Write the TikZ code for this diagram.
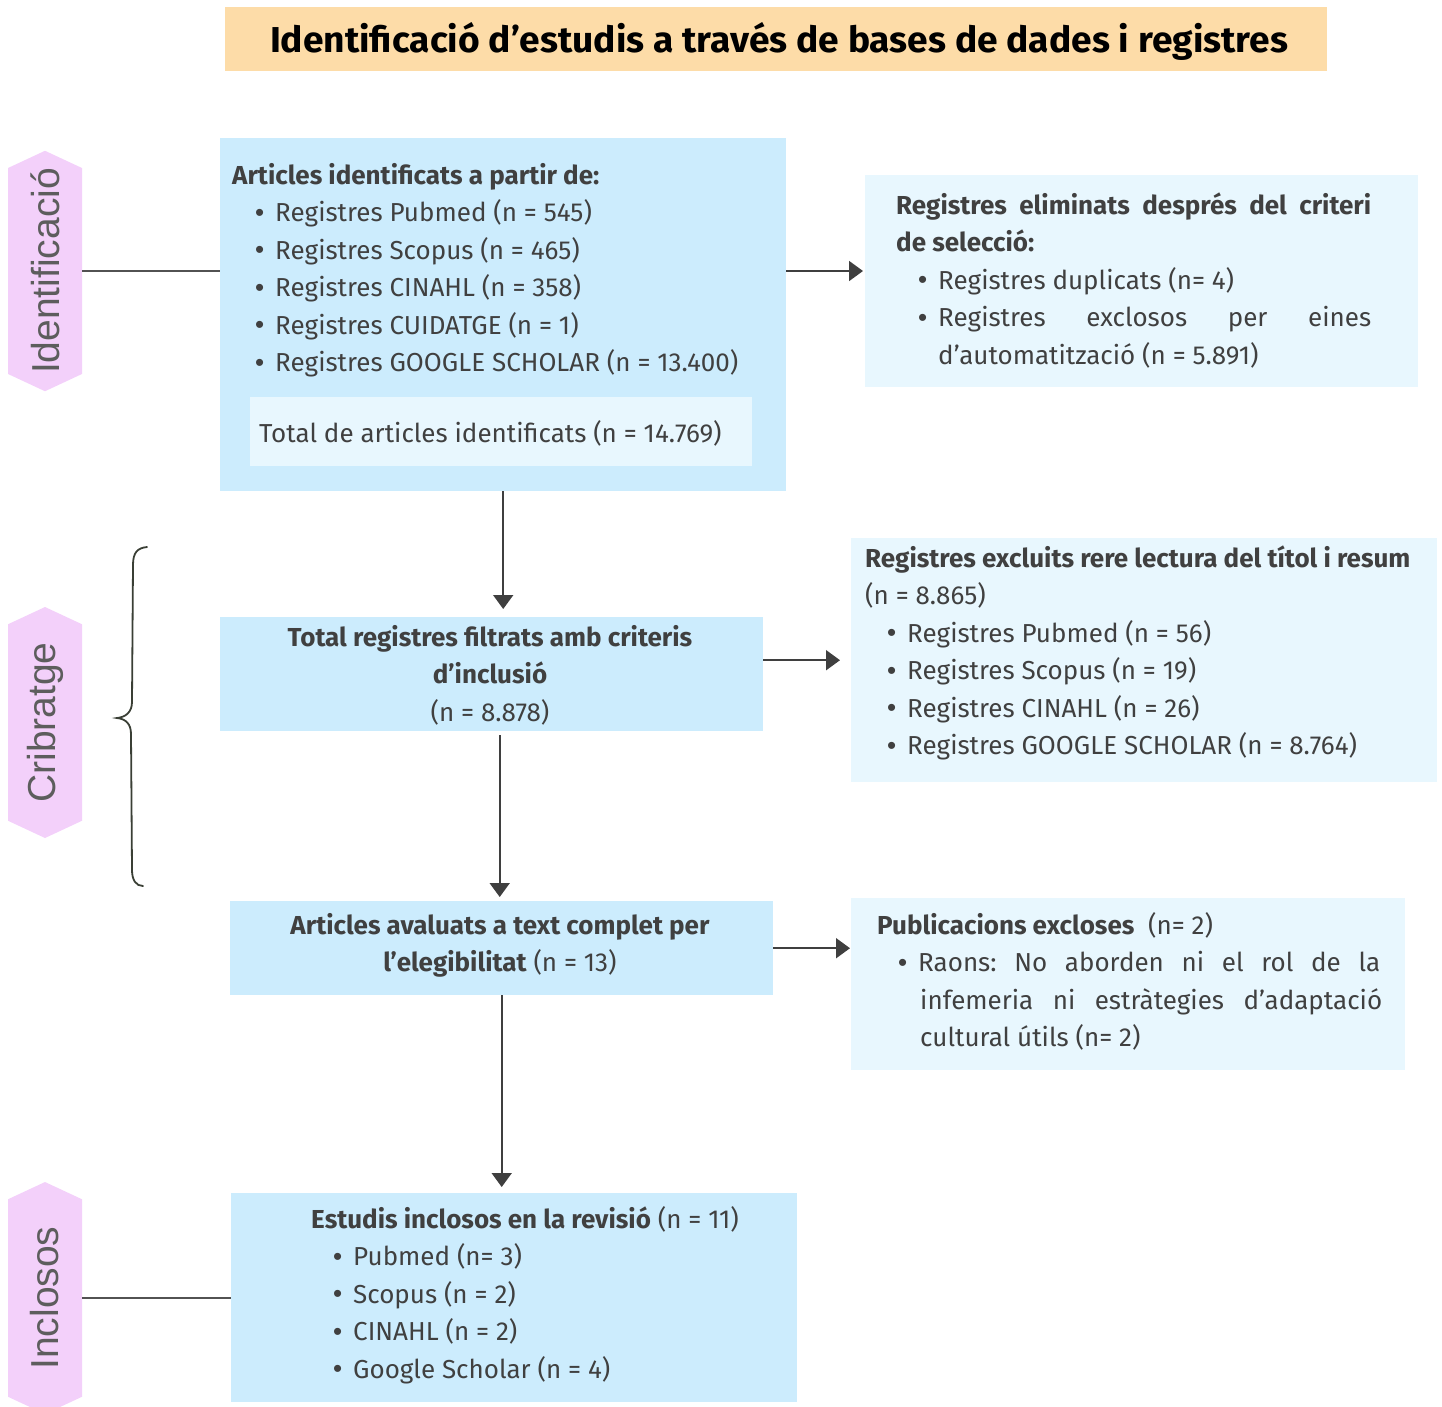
\documentclass[tikz,border=0pt]{standalone}
\usepackage{fontspec}
\usepackage{graphicx}
\setmainfont{Fira Sans}
\newfontfamily\labelfont{Liberation Sans}
\usetikzlibrary{arrows.meta,shapes.symbols}
\definecolor{mainblue}{HTML}{CCECFD}
\definecolor{lightblue}{HTML}{E8F7FE}
\definecolor{pinkhex}{HTML}{F3D0FA}
\definecolor{titlebg}{HTML}{FDDCA8}
\definecolor{txt}{HTML}{404040}
\definecolor{arrowc}{HTML}{3F3F3F}
\definecolor{bracec}{HTML}{3A3F35}
\frenchspacing
\newcommand\bitem[2]{\hspace*{#1}\makebox[20pt][l]{\labelfont\raisebox{0.5pt}{•}}#2}
\newcommand\bodysize{\fontsize{26}{37.5}\selectfont}
\begin{document}
\begin{tikzpicture}[x=1pt,y=-1pt,
  mainbox/.style={fill=mainblue, draw=none, anchor=north west, inner sep=0pt},
  lightbox/.style={fill=lightblue, draw=none, anchor=north west, inner sep=0pt},
  hexlab/.style={shape=signal, signal to=east and west, signal pointer angle=130,
     fill=pinkhex, draw=none, rotate=90, minimum height=74pt, inner sep=0pt,
     font={\labelfont\fontsize{39}{41}\selectfont}, text=txt!85},
  txtnode/.style={anchor=base west, inner sep=0pt, text=txt, font=\bodysize},
  txtc/.style={anchor=base, inner sep=0pt, text=txt, font=\bodysize},
  arr/.style={draw=arrowc, line width=1.8pt, -{Triangle[length=14pt,width=20pt]}},
  plain/.style={draw=arrowc!90, line width=1.8pt}
]
\useasboundingbox (0,0) rectangle (1442,1406);

% title
\node[fill=titlebg, anchor=north west, minimum width=1102pt, minimum height=64pt, inner sep=0pt] (title) at (225,7) {};
\node[anchor=base, inner sep=0pt, font={\bfseries\fontsize{36}{40}\selectfont}] (titletext) at (779,52)
  {\resizebox{1018pt}{\height}{Identificació d’estudis a través de bases de dades i registres}};

% side labels
\node[hexlab, minimum width=232pt] (hexI) at (45,271) {Identificació};
\node[hexlab, minimum width=231pt] (hexC) at (45,722.5) {Cribratge};
\node[hexlab, minimum width=232pt] (hexN) at (45,1298) {Inclosos};

% main boxes
\node[mainbox, minimum width=566pt, minimum height=353pt] (b1) at (220,138) {};
\node[lightbox, minimum width=502pt, minimum height=69pt] (inner) at (250,397) {};
\node[mainbox, minimum width=543pt, minimum height=114pt] (b2) at (220,617) {};
\node[mainbox, minimum width=543pt, minimum height=94pt] (b3) at (230,901) {};
\node[mainbox, minimum width=566pt, minimum height=209pt] (b4) at (231,1193) {};

% right boxes
\node[lightbox, minimum width=553pt, minimum height=212pt] (r1) at (865,175) {};
\node[lightbox, minimum width=586pt, minimum height=244pt] (r2) at (851,538) {};
\node[lightbox, minimum width=554pt, minimum height=172pt] (r3) at (851,898) {};

% texts
\node[txtnode] (t1) at (232,184) {\parbox[t]{550pt}{\bodysize\raggedright
  {\bfseries Articles identificats a partir de:}\\
  \bitem{23pt}{Registres Pubmed (n = 545)}\\
  \bitem{23pt}{Registres Scopus (n = 465)}\\
  \bitem{23pt}{Registres CINAHL (n = 358)}\\
  \bitem{23pt}{Registres CUIDATGE (n = 1)}\\
  \bitem{23pt}{Registres GOOGLE SCHOLAR (n = 13.400)}}};
\node[txtnode] (tinner) at (259,442) {Total de articles identificats (n = 14.769)};

\node[txtnode] (tr1) at (896,214) {\parbox[t]{520pt}{\bodysize\raggedright
  \makebox[475pt][s]{\bfseries Registres eliminats després del criteri}\\
  {\bfseries de selecció:}\\
  \bitem{22pt}{Registres duplicats (n= 4)}\\
  \bitem{22pt}{\makebox[433pt][s]{Registres exclosos per eines}}\\
  \hspace*{42pt}d’automatització (n = 5.891)}};

\node[txtc] (t2) at (490,646) {\parbox[t]{530pt}{\bodysize\centering
  {\bfseries Total registres filtrats amb criteris}\\
  {\bfseries d’inclusió}\\
  (n = 8.878)}};

\node[txtnode] (tr2) at (865,567) {\parbox[t]{575pt}{\bodysize\raggedright
  {\bfseries Registres excluits rere lectura del títol i resum}\\
  (n = 8.865)\\
  \bitem{22pt}{Registres Pubmed (n = 56)}\\
  \bitem{22pt}{Registres Scopus (n = 19)}\\
  \bitem{22pt}{Registres CINAHL (n = 26)}\\
  \bitem{22pt}{Registres GOOGLE SCHOLAR (n = 8.764)}}};

\node[txtc] (t3) at (500,934) {\parbox[t]{530pt}{\bodysize\centering
  {\bfseries Articles avaluats a text complet per}\\
  {\bfseries l’elegibilitat} (n = 13)}};

\node[txtnode] (tr3) at (877,934) {\parbox[t]{520pt}{\bodysize\raggedright
  {\bfseries Publicacions excloses}\ \ (n= 2)\\
  \bitem{21pt}{\makebox[462pt][s]{Raons: No aborden ni el rol de la}}\\
  \hspace*{43pt}\makebox[462pt][s]{infemeria ni estràtegies d’adaptació}\\
  \hspace*{43pt}cultural útils (n= 2)}};

\node[txtnode] (t4) at (311,1228) {\parbox[t]{480pt}{\bodysize\raggedright
  {\bfseries Estudis inclosos en la revisió} (n = 11)\\
  \bitem{22pt}{Pubmed (n= 3)}\\
  \bitem{22pt}{Scopus (n = 2)}\\
  \bitem{22pt}{CINAHL (n = 2)}\\
  \bitem{22pt}{Google Scholar (n = 4)}}};

% connectors
\draw[plain] (hexI.south) -- (hexI.south -| b1.west);
\draw[plain] (hexN.south) -- (hexN.south -| b4.west);
\draw[arr, shorten >=2pt] (hexI.south -| b1.east) -- (hexI.south -| r1.west);
\draw[arr, shorten >=11pt] (r2.west -| b2.east) -- (r2.west);
\draw[arr, shorten >=1pt] (b3.east) -- (b3.east -| r3.west);
\draw[arr, shorten >=8pt] (b1.south) -- (b1.south |- b2.north);
\draw[arr, shorten >=4pt, shorten <=4pt] ([xshift=-2pt]b3.north |- b2.south) -- ([xshift=-2pt]b3.north);
\draw[arr, shorten >=6pt] (b3.south) -- (b3.south |- b4.north);

% brace
\coordinate (brtop) at (147,547);
\coordinate (brtip) at (117,718);
\coordinate (brbot) at (143,886);
\draw[draw=bracec, line width=1.8pt, line cap=round]
  (brtop) .. controls (137,548) and (133,553) .. (133,565)
  -- (132,702) .. controls (132,712) and (126,717) .. (brtip)
  .. controls (126,719) and (131,724) .. (131,734)
  -- (132,870) .. controls (132,880) and (136,886) .. (brbot);
\end{tikzpicture}
\end{document}
